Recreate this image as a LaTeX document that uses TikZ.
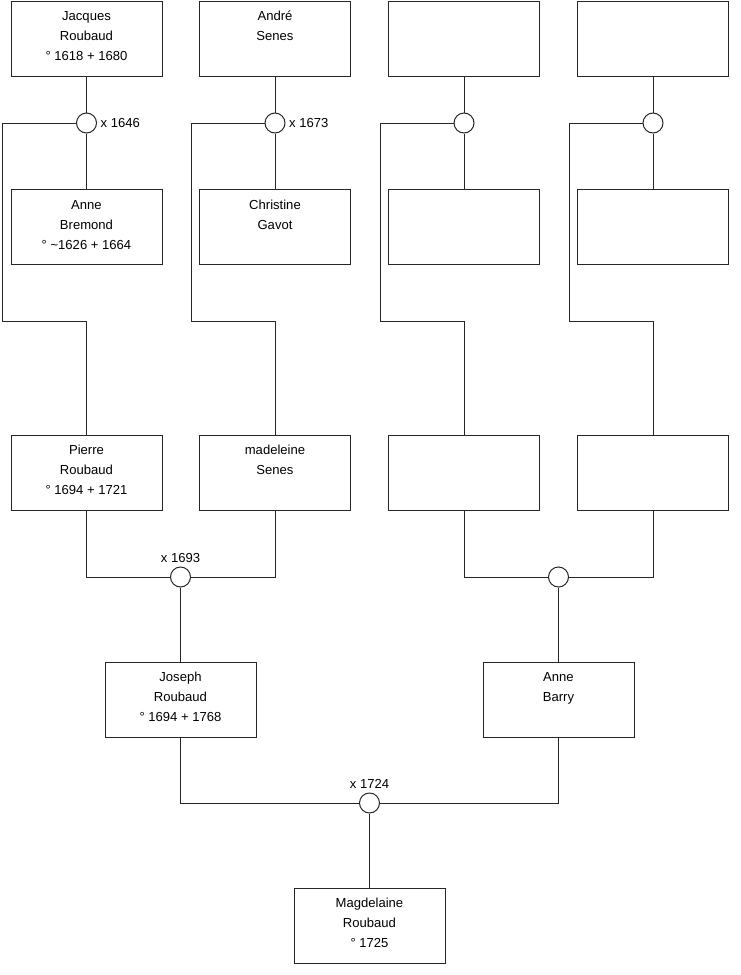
\documentclass[tikz,border=0pt]{standalone}
\usepackage{fontspec}
\setmainfont{Liberation Sans}
\tikzset{
  person/.style={draw=black!85,line width=0.75pt,inner sep=0pt},
  wed/.style={circle,draw=black!85,fill=white,line width=0.75pt,
    minimum size=15pt,inner sep=0pt},
  year/.style={font=\fontsize{9.8}{12}\selectfont,inner sep=2.5pt},
  link/.style={draw=black!85,line width=0.75pt},
}
% box text hangs from the top edge
\newcommand{\who}[1]{\parbox[c][56.25pt][t]{113.25pt}{\centering
  \fontsize{9.8}{15}\selectfont\rule{0pt}{14.75pt}#1\par}}

\begin{document}
\begin{tikzpicture}[x=0.75pt,y=-0.75pt]
  \useasboundingbox (0,0) rectangle (740,975);
  % great-grandparents
  \node[person] (jacques) at (86.5,38.5) {\who{Jacques\\Roubaud\\° 1618 + 1680}};
  \node[person] (andre) at (275,38.5) {\who{André\\Senes}};
  \node[person] (p3) at (464,38.5) {\who{}};
  \node[person] (p4) at (653,38.5) {\who{}};
  \node[person] (anne) at (86.5,227) {\who{Anne\\Bremond\\° \textasciitilde1626 + 1664}};
  \node[person] (christine) at (275,227) {\who{Christine\\Gavot}};
  \node[person] (p7) at (464,227) {\who{}};
  \node[person] (p8) at (653,227) {\who{}};
  \node[wed,label={[year]east:x 1646}] (m1) at (86.5,123) {};
  \node[wed,label={[year]east:x 1673}] (m2) at (275,123) {};
  \node[wed] (m3) at (464,123) {};
  \node[wed] (m4) at (653,123) {};
  \coordinate (b1) at (2,321);
  \coordinate (b2) at (191,321);
  \coordinate (b3) at (380,321);
  \coordinate (b4) at (569,321);
  % grandparents
  \node[person] (pierre) at (86.5,472.5) {\who{Pierre\\Roubaud\\° 1694 + 1721}};
  \node[person] (madeleine) at (275,472.5) {\who{madeleine\\Senes}};
  \node[person] (p11) at (464,472.5) {\who{}};
  \node[person] (p12) at (653,472.5) {\who{}};
  \foreach \f/\m/\w/\b/\c in {jacques/m1/anne/b1/pierre,andre/m2/christine/b2/madeleine,
      p3/m3/p7/b3/p11,p4/m4/p8/b4/p12} {
    \draw[link] (\f) -- (\m) -- (\w);
    \draw[link] (\m) -| (\b) -| (\c);
  }
  \node[wed,label={[year]north:x 1693}] (m5) at (180.5,577) {};
  \node[wed] (m6) at (558.5,577) {};
  % parents
  \node[person] (joseph) at (180.5,699.5) {\who{Joseph\\Roubaud\\° 1694 + 1768}};
  \node[person] (barry) at (558.5,699.5) {\who{Anne\\Barry}};
  \node[wed,label={[year]north:x 1724}] (m7) at (369.5,803) {};
  \node[person] (magdelaine) at (369.5,925.5) {\who{Magdelaine\\Roubaud\\° 1725}};
  \draw[link] (pierre) |- (m5);
  \draw[link] (madeleine) |- (m5);
  \draw[link] (m5) -- (joseph);
  \draw[link] (p11) |- (m6);
  \draw[link] (p12) |- (m6);
  \draw[link] (m6) -- (barry);
  \draw[link] (joseph) |- (m7);
  \draw[link] (barry) |- (m7);
  \draw[link] (m7) -- (magdelaine);
\end{tikzpicture}
\end{document}
